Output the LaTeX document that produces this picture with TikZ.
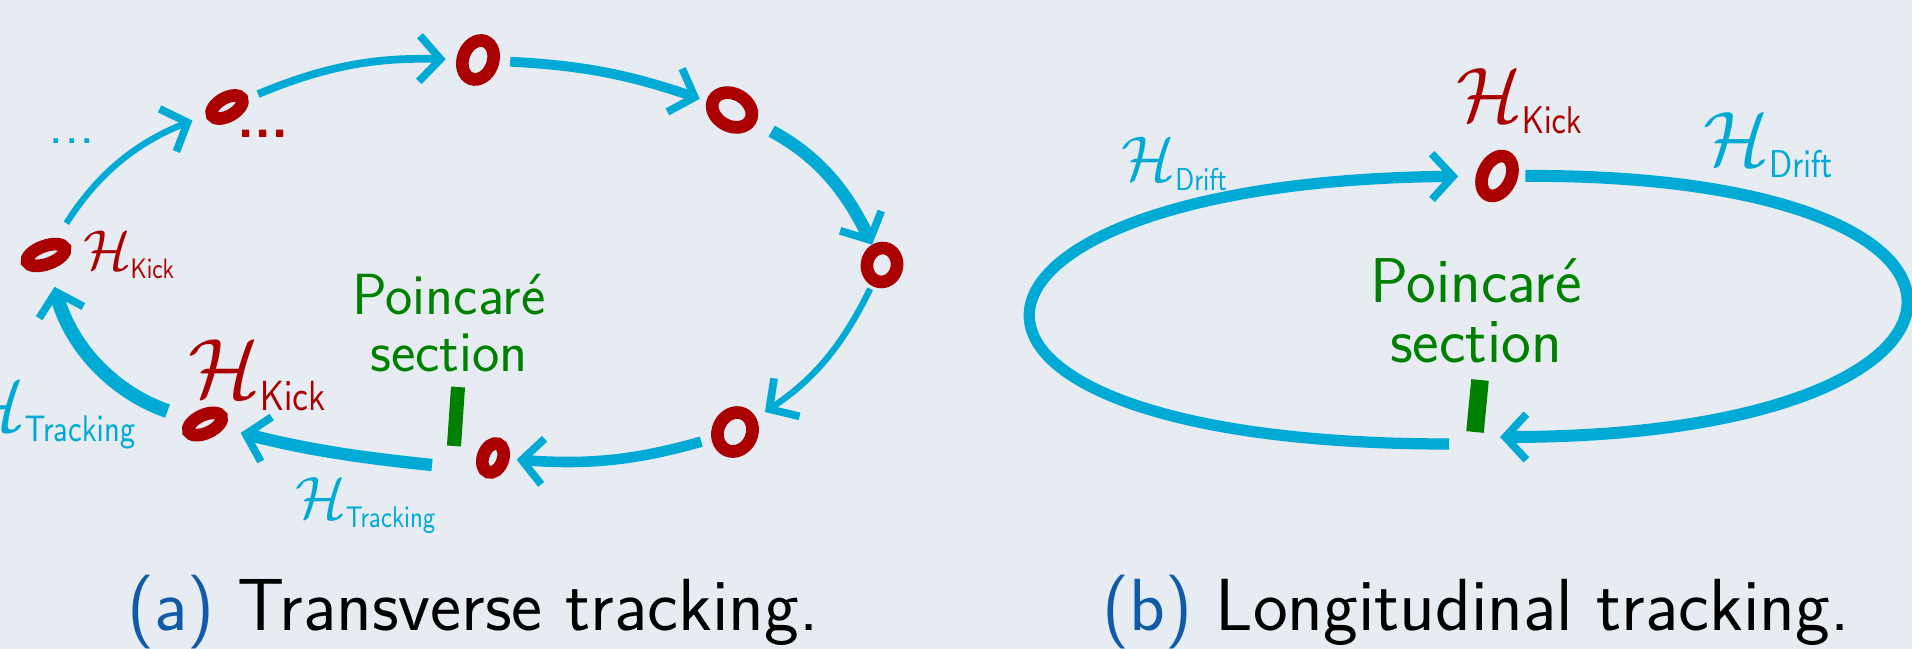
\documentclass[tikz,border=0pt]{standalone}
\usepackage{amsmath,amssymb}
\usepackage{graphicx}
\usepackage{tikz}
\usetikzlibrary{arrows.meta,positioning,shapes.geometric}
\usepackage{xcolor}
\definecolor{bggray}{RGB}{231,236,243}
\definecolor{trackblue}{RGB}{0,170,212}
\definecolor{kickred}{RGB}{170,0,0}
\definecolor{secgreen}{RGB}{0,128,0}
\definecolor{capblue}{RGB}{16,90,168}
\newcommand{\hop}[2]{\scalebox{#1}{$\mathcal{H}_{\scalebox{0.78}[1]{$\scriptscriptstyle\mathsf{#2}$}}$}}
\tikzset{
  kick/.style={ellipse, draw=kickred, line width=3.6pt, inner sep=0pt},
  track/.style={draw=trackblue, line width=#1,
    -{Straight Barb[length=6pt,width=13pt,line width=2.2pt]}},
  track/.default=2.5pt,
  hlab/.style={inner sep=0pt},
  seclab/.style={secgreen, align=center, inner sep=0pt},
  secbar/.style={secgreen, line width=4pt},
}

\begin{document}
\begin{tikzpicture}[x=0.01cm, y=-0.01cm, every node/.style={font=\sffamily}]
        \path[use as bounding box, fill=bggray] (0,0) rectangle (1912,649);
        % (a) kicks around the ring
        \foreach \n/\x/\y/\w/\h/\r in {n1/478/60/0.30/0.40/-20, n2/732/110/0.42/0.32/-30,
            n3/882/265/0.30/0.34/-10, n4/735/432/0.34/0.40/-25, n5/493/458/0.20/0.30/-20,
            n6/205/424/0.36/0.18/25, n7/46/255/0.40/0.18/20, n8/227/107/0.34/0.18/30} {
          \node[kick, minimum width=\w cm, minimum height=\h cm, rotate=\r] (\n) at (\x,\y) {};
        }
        \coordinate (s6) at (432,465);
        % tracking arrows
        \draw[track=2.2pt, shorten <=3pt, shorten >=3pt] (n8) to[bend left=12] (n1);
        \draw[track=2.8pt, shorten <=3pt, shorten >=2pt] (n1) to[bend left=8] (n2);
        \draw[track=3.6pt, shorten <=5pt, shorten >=0pt] (n2) to[bend left=18] (n3);
        \draw[track=1.8pt, shorten <=1pt, shorten >=3pt] (n3) to[bend left=15] (n4);
        \draw[track=3pt, shorten <=3pt, shorten >=2pt] (n4) to[bend left=10] (n5);
        \draw[track=3.5pt, shorten >=5pt] (s6) to[bend left=4] (n6);
        \draw[track=4pt, shorten <=6pt, shorten >=5pt] (n6) to[bend left=28] (n7);
        \draw[track=1.8pt, shorten <=5pt, shorten >=4pt] (n7) to[bend left=18] (n8);
        % section and labels
        \draw[secbar] (458,387) -- (454,446);
        \node[seclab, font=\sffamily\fontsize{16.5}{16}\selectfont] (poinL) at (449,323) {Poincaré\\section};
        \node[hlab, kickred] (hk7) at (130,255) {\hop{1.6}{Kick}};
        \node[hlab, kickred] (hk6) at (259,375) {\hop{2.4}{Kick}};
        \node[hlab, trackblue] (htb) at (367,505) {\hop{1.7}{Tracking}};
        \node[hlab, trackblue, anchor=east] (htl) at (140,414) {\hop{2.1}{Tracking}};
        \node[kickred, font=\sffamily\bfseries\fontsize{16}{16}\selectfont] (rdots) at (263,134) {...};
        \node[trackblue, font=\sffamily\fontsize{17}{17}\selectfont] (bdots) at (72,141) {...};
        % (b) one kick per turn
        \node[kick, minimum width=0.28cm, minimum height=0.42cm, rotate=-25] (K) at (1497,176) {};
        \coordinate (bl) at (1449,444);
        \coordinate (br) at (1500,437);
        \draw[track=3.4pt, shorten <=2pt] (K) .. controls (2050,174) and (2025,437) .. (br);
        \draw[track=3.2pt, shorten >=5pt] (bl) .. controls (870,444) and (909,181) .. (K);
        \draw[secbar, line width=5pt] (1480,380) -- (1475,432);
        \node[seclab, font=\sffamily\fontsize{18}{17}\selectfont] (poinR) at (1476,311) {Poincaré\\section};
        \node[hlab, kickred] (hkK) at (1521,101) {\hop{2.2}{Kick}};
        \node[hlab, trackblue] (hdl) at (1176,164) {\hop{1.8}{Drift}};
        \node[hlab, trackblue] (hdr) at (1770,145) {\hop{2.2}{Drift}};
        % captions
        \node[anchor=base, font=\sffamily\fontsize{21}{24}\selectfont] (capa) at (473,630) {\textcolor{capblue}{(a)} Transverse tracking.};
        \node[anchor=base, font=\sffamily\fontsize{21}{24}\selectfont] (capb) at (1476,630) {\textcolor{capblue}{(b)} Longitudinal tracking.};
      \end{tikzpicture}
\end{document}
